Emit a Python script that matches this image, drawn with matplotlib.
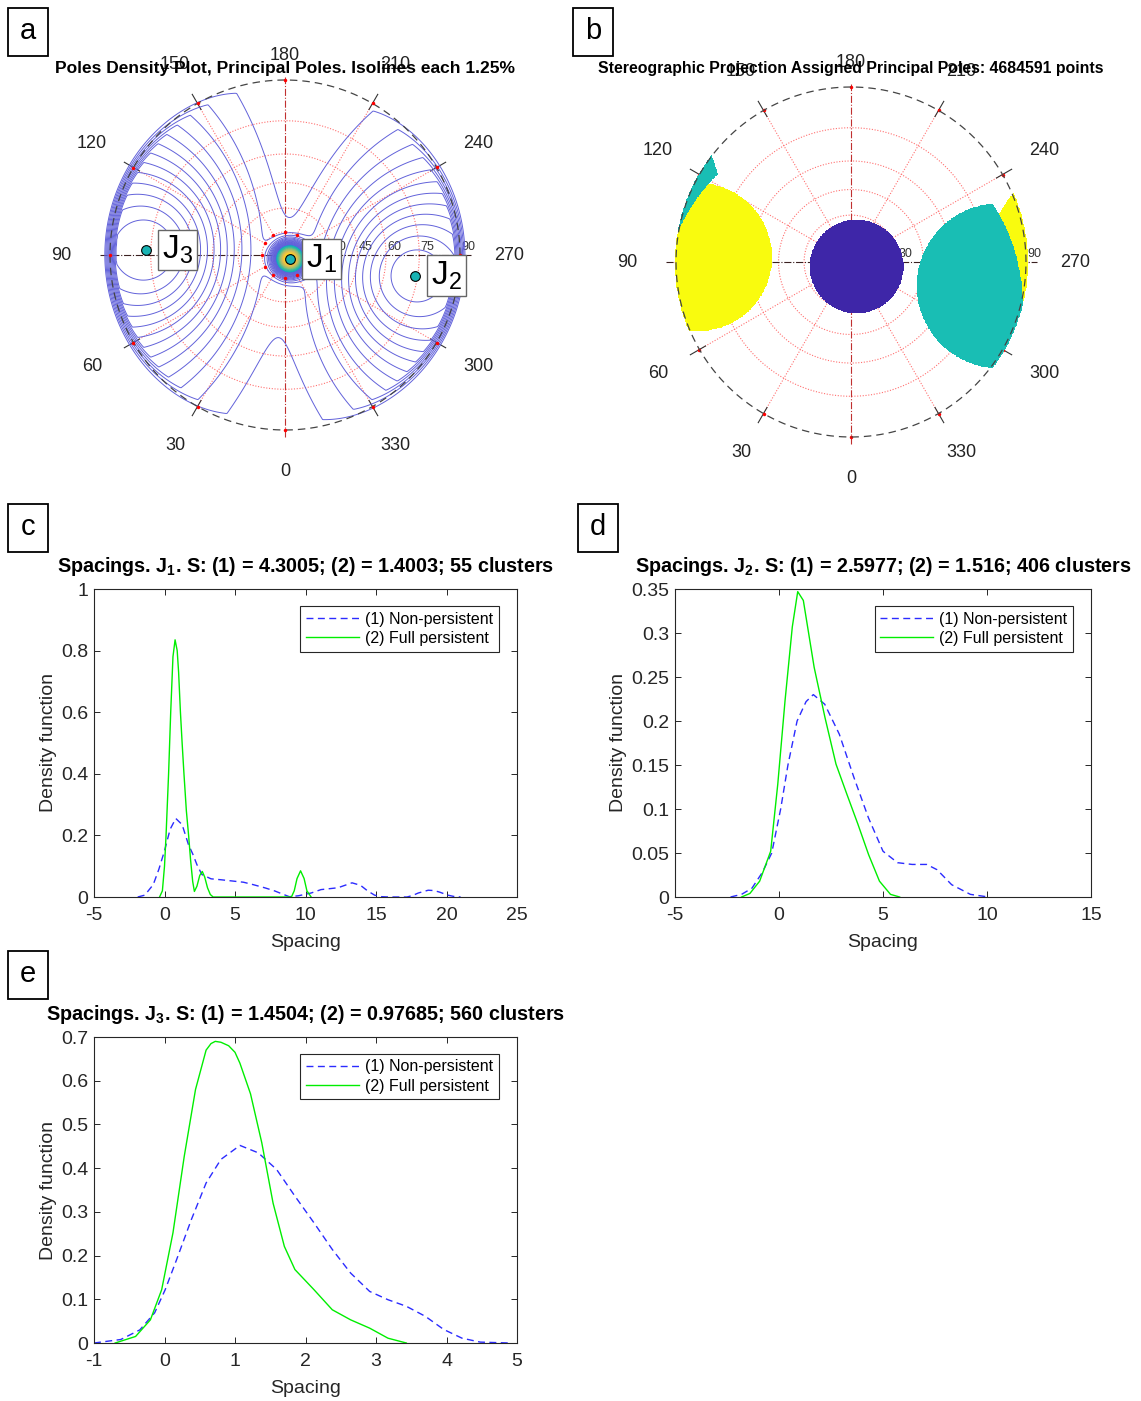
import numpy as np
import matplotlib.pyplot as plt
from matplotlib.colors import LinearSegmentedColormap, ListedColormap, Normalize
from matplotlib.patches import Rectangle

plt.rcParams['font.family'] = ['Liberation Sans', 'DejaVu Sans']
plt.rcParams['mathtext.fontset'] = 'custom'
plt.rcParams['mathtext.rm'] = 'Liberation Sans'
plt.rcParams['mathtext.it'] = 'Liberation Sans:italic'
plt.rcParams['mathtext.bf'] = 'Liberation Sans:bold'
plt.rcParams['axes.unicode_minus'] = False

W, H = 1141, 1401

# principal poles: dip and dip direction (deg)
pole_names = ['J$_1$', 'J$_2$', 'J$_3$']
pole_dip = [4, 74, 77]
pole_az = [308, 279, 92]
pole_peak = [60.0, 16.0, 17.5]      # density at the pole, %
pole_spread = [6.0, 30.0, 31.0]     # angular spread, deg
pole_cutoff = [30, 32, 28]          # assignment cone half-angle, deg
pole_colors = ['#3e26a8', '#19beb4', '#f9fb0e']
isoline_step = 1.25
fill_from = 20.0

angle_ticks = list(range(0, 360, 30))
dip_rings = [15, 30, 45, 60, 75, 90]

# spacing density curves, J1
c_np_x = [-1.9, -1.4, -0.8, -0.4, 0.0, 0.4, 0.8, 1.25, 1.7, 2.0, 2.3, 2.65, 3.3, 4.0, 5.0, 5.6,
          6.3, 7.1, 7.8, 8.4, 8.85, 9.5, 10.4, 11.1, 12.3, 13.3, 13.9, 14.4, 14.9, 15.4, 15.9,
          17.2, 17.6, 18.0, 18.7, 19.1, 19.5, 20.1, 20.5, 21.0]
c_np_y = [0.0, 0.006, 0.04, 0.09, 0.15, 0.22, 0.255, 0.235, 0.17, 0.14, 0.105, 0.073, 0.059,
          0.056, 0.051, 0.048, 0.04, 0.03, 0.02, 0.009, 0.001, 0.004, 0.013, 0.024, 0.03, 0.046,
          0.038, 0.02, 0.006, 0.001, 0.0, 0.0, 0.005, 0.013, 0.022, 0.021, 0.016, 0.006, 0.002, 0.0]
c_fp_x = [-0.35, -0.15, 0.0, 0.11, 0.29, 0.44, 0.6, 0.75, 0.9, 1.0, 1.13, 1.25, 1.38, 1.55, 1.71,
          1.85, 2.0, 2.12, 2.3, 2.5, 2.68, 2.85, 3.05, 3.25, 3.45, 9.0, 9.2, 9.4, 9.65, 9.9, 10.1, 10.4]
c_fp_y = [0.0, 0.02, 0.1, 0.2, 0.4, 0.6, 0.78, 0.835, 0.8, 0.73, 0.6, 0.5, 0.4, 0.28, 0.2,
          0.12, 0.05, 0.018, 0.035, 0.07, 0.083, 0.065, 0.03, 0.008, 0.0, 0.0, 0.02, 0.06, 0.085,
          0.06, 0.02, 0.0]

# spacing density curves, J2
d_np_x = [-2.33, -1.8, -1.3, -0.8, -0.35, 0.08, 0.43, 0.87, 1.3, 1.65, 2.2, 2.9, 3.6, 4.3, 5.0,
          5.7, 6.4, 7.1, 7.6, 8.3, 9.2, 10.07]
d_np_y = [0.0, 0.003, 0.01, 0.028, 0.05, 0.1, 0.15, 0.2, 0.222, 0.23, 0.219, 0.185, 0.136, 0.09,
          0.052, 0.039, 0.037, 0.037, 0.031, 0.014, 0.003, 0.0]
d_fp_x = [-1.8, -1.4, -0.93, -0.4, -0.06, 0.29, 0.64, 0.9, 1.17, 1.69, 2.21, 2.74, 3.26, 3.79,
          4.31, 4.83, 5.36, 5.8]
d_fp_y = [0.0, 0.004, 0.018, 0.052, 0.128, 0.223, 0.307, 0.347, 0.337, 0.261, 0.204, 0.151,
          0.117, 0.083, 0.048, 0.018, 0.003, 0.0]

# spacing density curves, J3
e_np_x = [-1.0, -0.62, -0.35, -0.14, 0.01, 0.17, 0.38, 0.59, 0.8, 1.07, 1.33, 1.59, 1.85, 2.12,
          2.38, 2.64, 2.91, 3.17, 3.43, 3.7, 3.96, 4.22, 4.48, 4.9]
e_np_y = [0.0, 0.008, 0.03, 0.069, 0.122, 0.19, 0.282, 0.366, 0.42, 0.452, 0.435, 0.397, 0.336,
          0.275, 0.214, 0.16, 0.118, 0.099, 0.084, 0.061, 0.031, 0.011, 0.002, 0.0]
e_fp_x = [-0.7, -0.41, -0.2, -0.04, 0.12, 0.28, 0.44, 0.59, 0.66, 0.72, 0.8, 0.91, 1.0, 1.07,
          1.22, 1.38, 1.54, 1.7, 1.85, 2.12, 2.38, 2.64, 2.91, 3.17, 3.43]
e_fp_y = [0.0, 0.015, 0.053, 0.122, 0.252, 0.427, 0.58, 0.67, 0.685, 0.69, 0.688, 0.68, 0.665,
          0.64, 0.57, 0.458, 0.32, 0.221, 0.168, 0.122, 0.076, 0.053, 0.034, 0.011, 0.0]

titles = ['Spacings. J$_\\mathbf{1}$. S: (1) = 4.3005; (2) = 1.4003; 55 clusters',
          'Spacings. J$_\\mathbf{2}$. S: (1) = 2.5977; (2) = 1.516; 406 clusters',
          'Spacings. J$_\\mathbf{3}$. S: (1) = 1.4504; (2) = 0.97685; 560 clusters']
c_yticks = [0, 0.2, 0.4, 0.6, 0.8, 1]
c_ylabels = ['0', '0.2', '0.4', '0.6', '0.8', '1']
d_yticks = [0, 0.05, 0.1, 0.15, 0.2, 0.25, 0.3, 0.35]
d_ylabels = ['0', '0.05', '0.1', '0.15', '0.2', '0.25', '0.3', '0.35']
e_yticks = [0, 0.1, 0.2, 0.3, 0.4, 0.5, 0.6, 0.7]
e_ylabels = ['0', '0.1', '0.2', '0.3', '0.4', '0.5', '0.6', '0.7']

parula = LinearSegmentedColormap.from_list(
    'parula', ['#352a87', '#0363e1', '#1485d4', '#06a7c6', '#38b99e',
               '#92bf73', '#d9ba56', '#fcce2e', '#f9fb0e'])

fig = plt.figure(figsize=(W / 100, H / 100), dpi=100)


def px_axes(x0, y0, x1, y1):
    return fig.add_axes([x0 / W, 1 - y1 / H, (x1 - x0) / W, (y1 - y0) / H])


def px_text(x, y, s, **kw):
    return fig.text(x / W, 1 - y / H, s, ha='center', va='center', **kw)


def panel_tag(x0, y0, letter):
    fig.add_artist(Rectangle((x0 / W, 1 - (y0 + 48) / H), 40 / W, 48 / H,
                             transform=fig.transFigure, fill=False, ec='black', lw=1.3))
    px_text(x0 + 20, y0 + 23, letter, fontsize=21)


def to_xy(dip, az):
    r = np.tan(np.radians(dip) / 2)
    a = np.radians(az)
    return -r * np.sin(a), -r * np.cos(a)


def unit_vec(dip, az):
    d, a = np.radians(dip), np.radians(az)
    return np.array([-np.sin(d) * np.sin(a), -np.sin(d) * np.cos(a), np.cos(d)])


# lower-hemisphere grid in the stereographic plane
n = 601
gx = np.linspace(-1.06, 1.06, n)
GX, GY = np.meshgrid(gx, gx)
GR = np.hypot(GX, GY)
gdip = 2 * np.arctan(GR)
ux = np.where(GR > 0, GX / np.maximum(GR, 1e-12), 0)
uy = np.where(GR > 0, GY / np.maximum(GR, 1e-12), 0)
gvec = np.stack([np.sin(gdip) * ux, np.sin(gdip) * uy, np.cos(gdip)], axis=-1)

ang = []       # one-sided angle (density)
ang_ax = []    # axial angle (assignment)
for dp, az in zip(pole_dip, pole_az):
    c = gvec @ unit_vec(dp, az)
    ang.append(np.degrees(np.arccos(np.clip(c, -1, 1))))
    ang_ax.append(np.degrees(np.arccos(np.clip(np.abs(c), 0, 1))))
ang = np.array(ang)
ang_ax = np.array(ang_ax)


def stereo_grid(ax, dot_z):
    t = np.linspace(0, 2 * np.pi, 400)
    for dring in dip_rings[:-1]:
        r = np.tan(np.radians(dring) / 2)
        ax.plot(r * np.cos(t), r * np.sin(t), ls=(0, (1, 1.5)), color='#ff7070', lw=0.8, zorder=1)
    for a in angle_ticks:
        x0, y0 = to_xy(dip_rings[0], a)
        x1, y1 = to_xy(90, a)
        if a % 90:
            ax.plot([x0, x1], [y0, y1], ls=(0, (1, 1.5)), color='#ff7070', lw=0.8, zorder=1)
            ax.plot([0.96 * x1, 1.06 * x1], [0.96 * y1, 1.06 * y1], color='#333333', lw=0.8, zorder=1)
        ax.plot([x0, x1], [y0, y1], 'o', color='red', ms=2.5, mec='none', zorder=dot_z)
    ax.plot([-1.06, 1.06], [0, 0], ls='-.', color='#3a2020', lw=0.8, zorder=1)
    ax.plot([0, 0], [-1.04, 1.02], ls='-.', color='#c03030', lw=0.8, zorder=1)
    ax.plot(np.cos(t), np.sin(t), ls=(0, (6, 4)), color='#444444', lw=0.9, zorder=3)
    for a in angle_ticks:
        rr = 1.14 if a == 180 else 1.235 + 0.045 * abs(np.sin(np.radians(a)))
        x, y = to_xy(90, a)
        ax.text(rr * x, rr * y, str(a), fontsize=13, ha='center', va='center', color='#222222')
    for dring in dip_rings[1:]:
        r = np.tan(np.radians(dring) / 2)
        ax.text(r + 0.005, 0.012, str(dring), fontsize=9, ha='left', va='bottom',
                color='#333333', zorder=1)
    ax.set_xlim(-1.45, 1.45)
    ax.set_ylim(-1.45, 1.45)
    ax.set_aspect('equal')
    ax.axis('off')


# (a) pole density isolines
R = 175
ax_a = px_axes(285 - 1.45 * R, 255 - 1.45 * R, 285 + 1.45 * R, 255 + 1.45 * R)
dens = np.zeros_like(GX)
for k in range(3):
    dens += pole_peak[k] * np.exp(-ang[k] ** 2 / (2 * pole_spread[k] ** 2))
dens *= np.clip((1.035 - GR) / 0.07, 0, 1)     # counting window fades out at the primitive
dens = np.ma.masked_where(GR > 1.04, dens)
stereo_grid(ax_a, 4)
top = float(dens.max())
ax_a.contourf(GX, GY, dens, levels=np.arange(fill_from, top + isoline_step, isoline_step),
              cmap=parula, norm=Normalize(0, top), zorder=2)
ax_a.contour(GX, GY, dens, levels=np.arange(isoline_step, fill_from + 0.1, isoline_step),
             colors='#6262da', linewidths=0.7, zorder=2)
for k in range(3):
    px, py = to_xy(pole_dip[k], pole_az[k])
    ax_a.plot(px, py, 'o', ms=7, mfc='#19b3b3', mec='black', mew=0.8, zorder=5)
    ax_a.text(px + 0.18, py, pole_names[k], fontsize=24, ha='center', va='center', zorder=6,
              bbox=dict(boxstyle='square,pad=0.12', fc='white', ec='#666666', lw=1))
px_text(285, 68, 'Poles Density Plot, Principal Poles. Isolines each 1.25%',
        fontsize=12.5, fontweight='bold')

# (b) assigned principal poles
ax_b = px_axes(851 - 1.45 * R, 262 - 1.45 * R, 851 + 1.45 * R, 262 + 1.45 * R)
stereo_grid(ax_b, 1.5)
nearest = np.argmin(ang_ax, axis=0)
best = np.min(ang_ax, axis=0)
cut = np.array(pole_cutoff)[nearest]
assign = np.ma.masked_where((best > cut) | (GR > 1.01), nearest)
ax_b.imshow(assign, extent=[gx[0], gx[-1], gx[0], gx[-1]], origin='lower',
            cmap=ListedColormap(pole_colors), vmin=-0.5, vmax=2.5,
            interpolation='nearest', zorder=2)
px_text(851, 68, 'Stereographic Projection Assigned Principal Poles: 4684591 points',
        fontsize=11.4, fontweight='bold')


def density_panel(rect, np_x, np_y, fp_x, fp_y, xlim, xticks, ylim, yticks, ylabels, title):
    ax = px_axes(*rect)
    ax.plot(np_x, np_y, color='#2b2bff', lw=1, dashes=(5, 3.2), label='(1) Non-persistent')
    ax.plot(fp_x, fp_y, color='#00ee00', lw=1, label='(2) Full persistent')
    ax.set_xlim(*xlim)
    ax.set_ylim(*ylim)
    ax.set_xticks(xticks)
    ax.set_yticks(yticks)
    ax.set_yticklabels(ylabels)
    ax.tick_params(direction='in', top=True, right=True, length=4, labelsize=14,
                   colors='#262626', width=0.7)
    ax.tick_params(axis='x', pad=7)
    ax.tick_params(axis='y', pad=4)
    for s in ax.spines.values():
        s.set_color('#262626')
        s.set_linewidth(0.8)
    ax.set_xlabel('Spacing', fontsize=14, color='#262626', labelpad=7.5)
    ax.set_ylabel('Density function', fontsize=14, color='#262626', labelpad=3)
    ax.set_title(title, fontsize=14.2, fontweight='bold', pad=12)
    leg = ax.legend(loc='upper right', bbox_to_anchor=(0.957, 0.945), fontsize=11.5,
                    fancybox=False, edgecolor='#262626', framealpha=1, borderaxespad=0,
                    handlelength=3.3, handletextpad=0.4, borderpad=0.35, labelspacing=0.28)
    leg.get_frame().set_linewidth(0.8)
    return ax


density_panel((94, 589, 517, 897), c_np_x, c_np_y, c_fp_x, c_fp_y, (-5, 25), range(-5, 26, 5),
              (0, 1), c_yticks, c_ylabels, titles[0])
density_panel((675, 589, 1091, 897), d_np_x, d_np_y, d_fp_x, d_fp_y, (-5, 15), range(-5, 16, 5),
              (0, 0.35), d_yticks, d_ylabels, titles[1])
density_panel((94, 1037, 517, 1343), e_np_x, e_np_y, e_fp_x, e_fp_y, (-1, 5), range(-1, 6),
              (0, 0.7), e_yticks, e_ylabels, titles[2])

panel_tag(8, 8, 'a')
panel_tag(573, 8, 'b')
panel_tag(8, 504, 'c')
panel_tag(578, 504, 'd')
panel_tag(8, 951, 'e')

fig.savefig('out.png', dpi=100, facecolor='white')
